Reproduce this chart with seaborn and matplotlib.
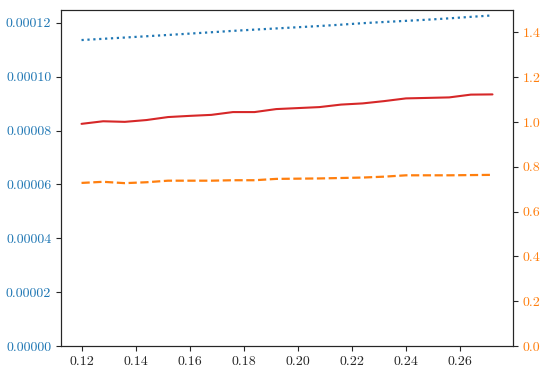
import matplotlib
matplotlib.use("Agg")
import matplotlib.pyplot as plt
import pandas as pd
import seaborn as sns

# data
x = [0.120, 0.128, 0.136, 0.144, 0.152, 0.160, 0.168, 0.176, 0.184, 0.192,
     0.200, 0.208, 0.216, 0.224, 0.232, 0.240, 0.248, 0.256, 0.264, 0.272]
blue = [1.1359e-4, 1.1405e-4, 1.1452e-4, 1.1500e-4, 1.1548e-4, 1.1598e-4, 1.1648e-4, 1.1700e-4, 1.1746e-4, 1.1790e-4,
        1.1835e-4, 1.1880e-4, 1.1930e-4, 1.1985e-4, 1.2030e-4, 1.2072e-4, 1.2115e-4, 1.2165e-4, 1.2220e-4, 1.2274e-4]
red = [8.248e-5, 8.344e-5, 8.322e-5, 8.389e-5, 8.500e-5, 8.544e-5, 8.581e-5, 8.685e-5, 8.685e-5, 8.796e-5,
       8.833e-5, 8.870e-5, 8.963e-5, 9.007e-5, 9.093e-5, 9.193e-5, 9.211e-5, 9.230e-5, 9.333e-5, 9.341e-5]
orange = [0.728, 0.733, 0.727, 0.731, 0.738, 0.738, 0.738, 0.740, 0.740, 0.746,
          0.747, 0.748, 0.750, 0.752, 0.756, 0.762, 0.762, 0.762, 0.763, 0.764]

df = pd.DataFrame({"x": x, "blue": blue, "red": red, "orange": orange})

sns.set_style("ticks")
plt.rcParams['font.family'] = ['cmr10', 'DejaVu Serif']
plt.rcParams['axes.formatter.use_mathtext'] = True
plt.rcParams['font.size'] = 10

fig = plt.figure(figsize=(5.43, 3.67), dpi=100)
ax = fig.add_axes([0.1123, 0.0572, 0.8325, 0.9156])

sns.lineplot(data=df, x="x", y="blue", ax=ax, color="tab:blue", linestyle=":", linewidth=1.6)
sns.lineplot(data=df, x="x", y="red", ax=ax, color="tab:red", linewidth=1.5)
ax.set_ylim(bottom=0)
ax.set_xlabel("")
ax.set_ylabel("")
ax.tick_params(axis="y", labelcolor="tab:blue")
ax.set_xticks([0.12, 0.14, 0.16, 0.18, 0.20, 0.22, 0.24, 0.26])
ax.set_yticks([0, 0.00002, 0.00004, 0.00006, 0.00008, 0.00010, 0.00012])
ax.set_yticklabels(["0.00000", "0.00002", "0.00004", "0.00006", "0.00008", "0.00010", "0.00012"])
ax.set_xticklabels(["0.12", "0.14", "0.16", "0.18", "0.20", "0.22", "0.24", "0.26"])

ax2 = ax.twinx()
sns.lineplot(data=df, x="x", y="orange", ax=ax2, color="tab:orange", linestyle="--", linewidth=1.6)
ax2.set_ylim(0, 1.5)
ax2.set_ylabel("")
ax2.tick_params(axis="y", labelcolor="tab:orange")
ax2.set_yticks([0.0, 0.2, 0.4, 0.6, 0.8, 1.0, 1.2, 1.4])
ax2.set_yticklabels(["0.0", "0.2", "0.4", "0.6", "0.8", "1.0", "1.2", "1.4"])

plt.savefig("out.png", dpi=100)
plt.close()
